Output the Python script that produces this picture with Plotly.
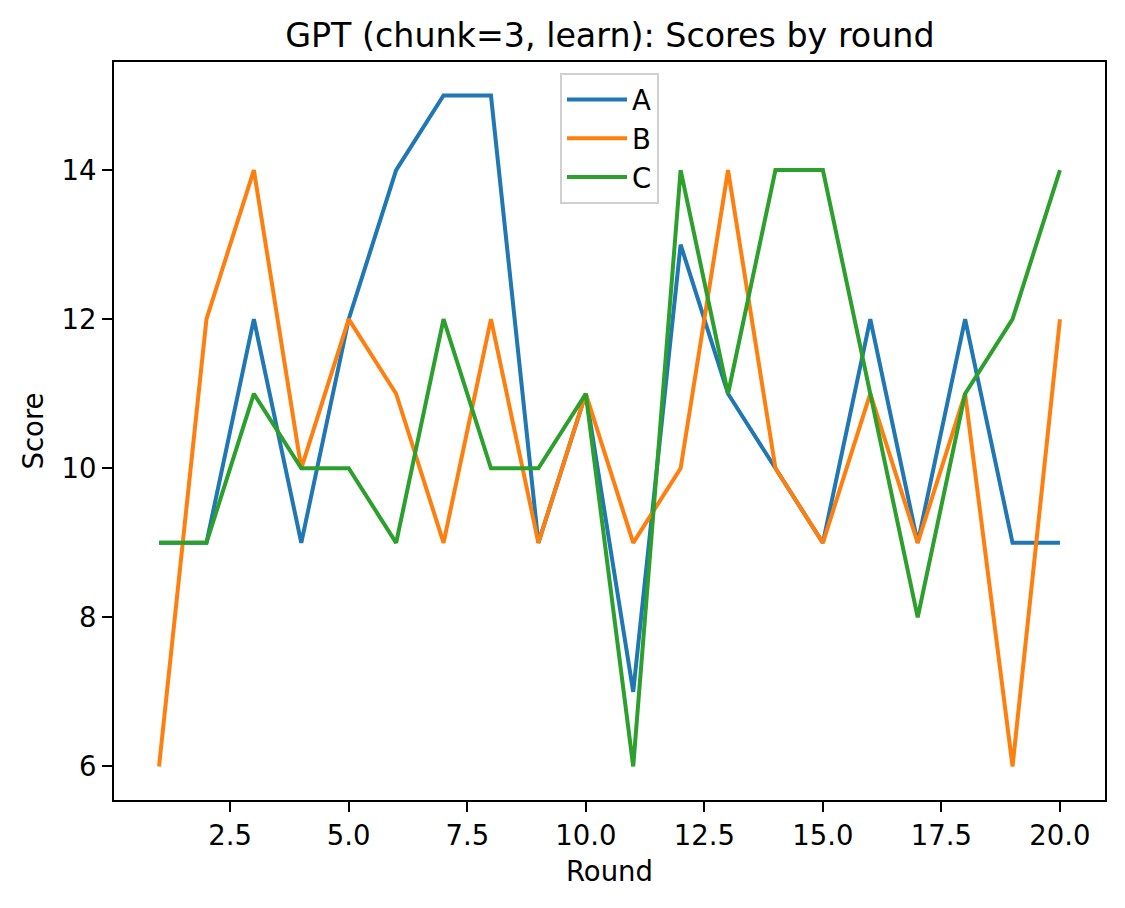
import plotly.graph_objects as go

rounds = list(range(1, 21))
score_a = [9, 9, 12, 9, 12, 14, 15, 15, 9, 11, 7, 13, 11, 10, 9, 12, 9, 12, 9, 9]
score_b = [6, 12, 14, 10, 12, 11, 9, 12, 9, 11, 9, 10, 14, 10, 9, 11, 9, 11, 6, 12]
score_c = [9, 9, 11, 10, 10, 9, 12, 10, 10, 11, 6, 14, 11, 14, 14, 11, 8, 11, 12, 14]
names = ["A", "B", "C"]
colors = ["#1f77b4", "#ff7f0e", "#2ca02c"]

fig = go.Figure()
for name, ys, col in zip(names, [score_a, score_b, score_c], colors):
    fig.add_trace(go.Scatter(x=rounds, y=ys, mode="lines", name=name,
                             line=dict(color=col, width=4)))

font_family = "DejaVu Sans"
axis_common = dict(showline=True, mirror=True, linecolor="black", linewidth=2,
                   ticks="outside", ticklen=10, tickwidth=2, tickcolor="black",
                   showgrid=False, zeroline=False,
                   tickfont=dict(size=27.5, color="black", family=font_family))

fig.update_layout(
    width=1125, height=908,
    paper_bgcolor="white", plot_bgcolor="white",
    margin=dict(l=106, r=28, t=54, b=116),
    font=dict(family=font_family, color="black"),
    title=dict(text="GPT (chunk=3, learn): Scores by round", x=0.535, xanchor="center",
               y=0.970, yanchor="middle", font=dict(size=33.3, color="black")),
    xaxis=dict(range=[0.05, 20.95], tick0=0, dtick=2.5, tickformat=".1f",
               title=dict(text="Round", font=dict(size=27.5), standoff=12), **axis_common),
    yaxis=dict(range=[5.55, 15.45], tick0=0, dtick=2,
               title=dict(text="Score", font=dict(size=27.5), standoff=10), **axis_common),
    legend=dict(x=0.5, xanchor="center", y=0.985, yanchor="top",
                bordercolor="#d0d0d0", borderwidth=2, bgcolor="rgba(255,255,255,0.8)",
                font=dict(size=27.5, color="black"), tracegroupgap=0, itemwidth=60),
    showlegend=True,
)

fig.write_html("out.html")
